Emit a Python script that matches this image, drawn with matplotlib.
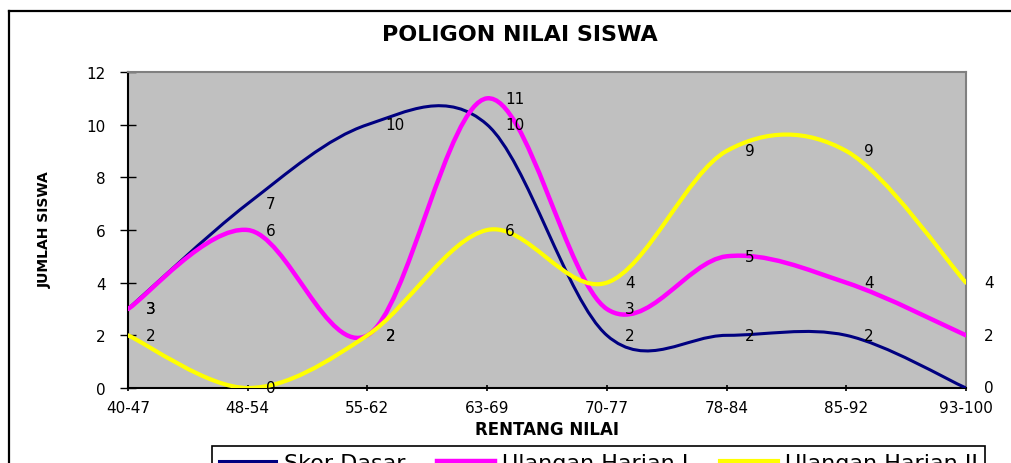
import matplotlib
matplotlib.use("Agg")
import matplotlib.pyplot as plt
from matplotlib.path import Path
from matplotlib.patches import PathPatch
from matplotlib.lines import Line2D

plt.rcParams['font.family'] = ['DejaVu Sans']

# data
categories = ['40-47', '48-54', '55-62', '63-69', '70-77', '78-84', '85-92', '93-100']
skor_dasar = [3, 7, 10, 10, 2, 2, 2, 0]
ulangan_1 = [3, 6, 2, 11, 3, 5, 4, 2]
ulangan_2 = [2, 0, 2, 6, 4, 9, 9, 4]

series = [
    ('Skor Dasar', skor_dasar, '#000080', 2.2),
    ('Ulangan Harian I', ulangan_1, '#FF00FF', 3.2),
    ('Ulangan Harian II', ulangan_2, '#FFFF00', 3.0),
]


def smooth_path(xs, ys):
    # excel-like smoothed line: cubic bezier through every point (catmull-rom control points)
    pts = list(zip(xs, ys))
    n = len(pts)
    verts = [pts[0]]
    codes = [Path.MOVETO]
    for i in range(n - 1):
        p0 = pts[max(i - 1, 0)]
        p1 = pts[i]
        p2 = pts[i + 1]
        p3 = pts[min(i + 2, n - 1)]
        c1 = (p1[0] + (p2[0] - p0[0]) / 6, p1[1] + (p2[1] - p0[1]) / 6)
        c2 = (p2[0] - (p3[0] - p1[0]) / 6, p2[1] - (p3[1] - p1[1]) / 6)
        verts += [c1, c2, p2]
        codes += [Path.CURVE4] * 3
    return Path(verts, codes)


W, H = 1012, 464
fig = plt.figure(figsize=(W / 100, H / 100), dpi=100)
fig.patch.set_facecolor('white')

ax = fig.add_axes([128 / W, 1 - 389 / H, (966 - 128) / W, (389 - 73) / H])
ax.set_facecolor('#C0C0C0')

x = list(range(len(categories)))
handles = []
for name, vals, color, lw in series:
    patch = PathPatch(smooth_path(x, vals), facecolor='none', edgecolor=color,
                      lw=lw, capstyle='round', joinstyle='round', zorder=3)
    ax.add_patch(patch)
    handles.append(Line2D([], [], color=color, lw=lw, label=name))
    for xi, v in zip(x, vals):
        ax.annotate(str(v), (xi, v), xytext=(13, 0), textcoords='offset points',
                    ha='left', va='center', fontsize=11, zorder=5,
                    annotation_clip=False)

ax.set_xlim(0, len(categories) - 1)
ax.set_ylim(0, 12)
ax.set_xticks(x)
ax.set_xticklabels(categories)
ax.set_yticks(range(0, 13, 2))

ax.tick_params(axis='y', direction='inout', length=12, width=1, pad=10, labelsize=11)
ax.tick_params(axis='x', direction='inout', length=5, width=1.2, pad=6, labelsize=11)

for s in ['left', 'bottom']:
    ax.spines[s].set_color('black')
    ax.spines[s].set_linewidth(1.5)
for s in ['top', 'right']:
    ax.spines[s].set_color('#808080')
    ax.spines[s].set_linewidth(1.5)

fig.text(520 / W, 1 - 35 / H, 'POLIGON NILAI SISWA', ha='center', va='center',
         fontsize=16, fontweight='bold')
fig.text(547 / W, 1 - 430 / H, 'RENTANG NILAI', ha='center', va='center',
         fontsize=12, fontweight='bold')
fig.text(45 / W, 1 - 230 / H, 'JUMLAH SISWA', ha='center', va='center',
         rotation=90, fontsize=10, fontweight='bold')

# outer chart frame
fig.add_artist(Line2D([9 / W, 9 / W], [0, 1 - 12 / H], transform=fig.transFigure,
                      color='black', lw=1.6))
fig.add_artist(Line2D([9 / W, 1], [1 - 12 / H, 1 - 12 / H], transform=fig.transFigure,
                      color='black', lw=1.6))

leg = fig.legend(handles=handles, loc='upper left', ncol=3,
                 bbox_to_anchor=(212 / W, 1 - 447 / H),
                 fontsize=16, frameon=True, fancybox=False, framealpha=1,
                 edgecolor='black', handlelength=2.6, handletextpad=0.35,
                 columnspacing=1.4, borderpad=0.3, borderaxespad=0)
leg.get_frame().set_linewidth(1.2)

fig.savefig('out.png', dpi=100)
